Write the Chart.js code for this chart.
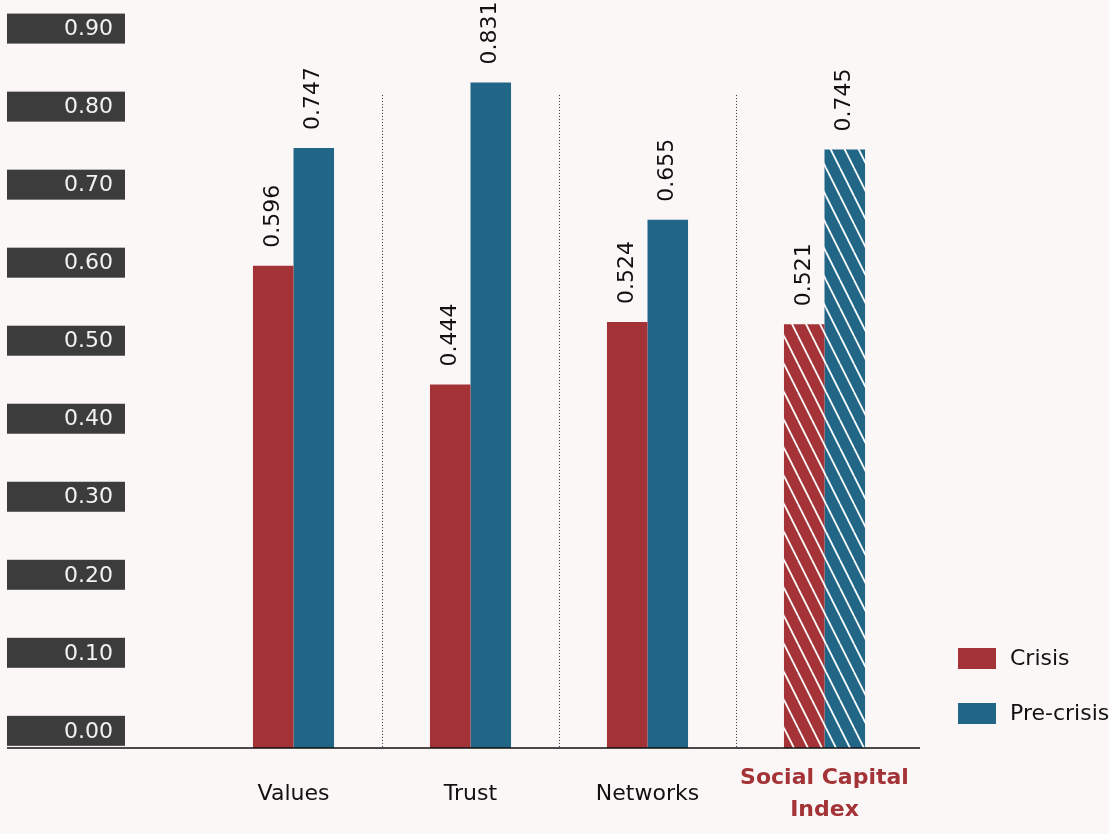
<!DOCTYPE html>
<html>
<head>
<meta charset="utf-8">
<script src="https://cdn.jsdelivr.net/npm/chart.js@4.4.1/dist/chart.umd.min.js"></script>
<style>
  html, body { margin: 0; padding: 0; background: #faf7f6; }
  #wrap { width: 1109px; height: 834px; }
</style>
</head>
<body>
<div id="wrap"><canvas id="chart" width="1109" height="834"></canvas></div>
<script>
// Data
const categories = ["Values", "Trust", "Networks", ["Social Capital", "Index"]];
const crisis = [0.596, 0.444, 0.524, 0.521];
const preCrisis = [0.747, 0.831, 0.655, 0.745];
const seriesNames = ["Crisis", "Pre-crisis"];
const tickValues = [0, 0.1, 0.2, 0.3, 0.4, 0.5, 0.6, 0.7, 0.8, 0.9];
const tickLabels = ["0.00", "0.10", "0.20", "0.30", "0.40", "0.50", "0.60", "0.70", "0.80", "0.90"];

const RED = "#a33337";
const BLUE = "#226687";
const BG = "#faf7f6";
const FONT = "'DejaVu Sans', sans-serif";
const Y_MIN = -0.022;
const HATCHED = 3;

Chart.defaults.font.family = FONT;
Chart.defaults.font.size = 22;
Chart.defaults.color = "#111";

// striped fill for the index bars
function hatch(color) {
  const c = document.createElement("canvas");
  c.width = 14;
  c.height = 28;
  const g = c.getContext("2d");
  g.fillStyle = color;
  g.fillRect(0, 0, 14, 28);
  g.strokeStyle = "#ffffff";
  g.lineWidth = 1.8;
  [-14, 0, 14].forEach((dx) => {
    g.beginPath();
    g.moveTo(dx, 0);
    g.lineTo(dx + 14, 28);
    g.stroke();
  });
  return g.createPattern(c, "repeat");
}
const redHatch = hatch(RED);
const blueHatch = hatch(BLUE);

const decor = {
  id: "decor",
  beforeDraw(chart) {
    const ctx = chart.ctx;
    ctx.save();
    ctx.fillStyle = BG;
    ctx.fillRect(0, 0, chart.width, chart.height);
    ctx.restore();
  },
  beforeDatasetsDraw(chart) {
    const { ctx, chartArea } = chart;
    const x = chart.scales.x;
    const y = chart.scales.y;
    ctx.save();

    // y tick boxes
    tickValues.forEach((v, i) => {
      const p = y.getPixelForValue(v);
      ctx.fillStyle = "#3c3c3c";
      ctx.fillRect(7, p - 15, 118, 30);
      ctx.fillStyle = "#f2f2f2";
      ctx.font = "22px " + FONT;
      ctx.textAlign = "right";
      ctx.textBaseline = "middle";
      ctx.fillText(tickLabels[i], 113, p + 1);
    });

    // dotted separators between categories
    ctx.strokeStyle = "#333";
    ctx.lineWidth = 1;
    ctx.setLineDash([1, 2]);
    const top = y.getPixelForValue(0.815);
    for (let i = 0; i < categories.length - 1; i++) {
      const sx = Math.round((x.getPixelForValue(i) + x.getPixelForValue(i + 1)) / 2) + 0.5;
      ctx.beginPath();
      ctx.moveTo(sx, top);
      ctx.lineTo(sx, chartArea.bottom);
      ctx.stroke();
    }
    ctx.restore();
  },
  afterDatasetsDraw(chart) {
    const { ctx, chartArea } = chart;
    ctx.save();

    // baseline
    ctx.strokeStyle = "#111";
    ctx.lineWidth = 1.5;
    ctx.beginPath();
    ctx.moveTo(7, chartArea.bottom);
    ctx.lineTo(chartArea.right + 7, chartArea.bottom);
    ctx.stroke();

    // rotated value labels
    ctx.fillStyle = "#111";
    ctx.font = "22px " + FONT;
    ctx.textAlign = "left";
    ctx.textBaseline = "middle";
    chart.data.datasets.forEach((ds, di) => {
      chart.getDatasetMeta(di).data.forEach((bar, i) => {
        ctx.save();
        ctx.translate(bar.x, bar.y - 18);
        ctx.rotate(-Math.PI / 2);
        ctx.fillText(ds.data[i].toFixed(3), 0, 0);
        ctx.restore();
      });
    });

    // legend
    const solid = [RED, BLUE];
    chart.data.datasets.forEach((ds, di) => {
      const ly = 648 + di * 55;
      ctx.fillStyle = solid[di];
      ctx.fillRect(958, ly, 38, 21);
      ctx.fillStyle = "#111";
      ctx.fillText(ds.label, 1010, ly + 11);
    });
    ctx.restore();
  }
};

new Chart(document.getElementById("chart"), {
  type: "bar",
  data: {
    labels: categories,
    datasets: [
      {
        label: seriesNames[0],
        data: crisis,
        backgroundColor: (c) => (c.dataIndex === HATCHED ? redHatch : RED),
        base: Y_MIN,
      },
      {
        label: seriesNames[1],
        data: preCrisis,
        backgroundColor: (c) => (c.dataIndex === HATCHED ? blueHatch : BLUE),
        base: Y_MIN,
      },
    ],
  },
  options: {
    responsive: false,
    animation: false,
    categoryPercentage: 0.458,
    barPercentage: 1,
    layout: {
      padding: { left: 205, right: 196, top: 13, bottom: 0 },
    },
    plugins: {
      legend: { display: false },
      tooltip: { enabled: false },
    },
    scales: {
      x: {
        grid: { display: false, drawTicks: false },
        border: { display: false },
        afterFit: (scale) => {
          scale.height = 86;
        },
        ticks: {
          padding: 30,
          crossAlign: "center",
          color: (c) => (c.index === HATCHED ? RED : "#111"),
          font: (c) => ({
            family: FONT,
            size: 22,
            lineHeight: 1.45,
            weight: c.index === HATCHED ? "bold" : "normal",
          }),
        },
      },
      y: {
        display: false,
        min: Y_MIN,
        max: 0.92,
      },
    },
  },
  plugins: [decor],
});
</script>
</body>
</html>
